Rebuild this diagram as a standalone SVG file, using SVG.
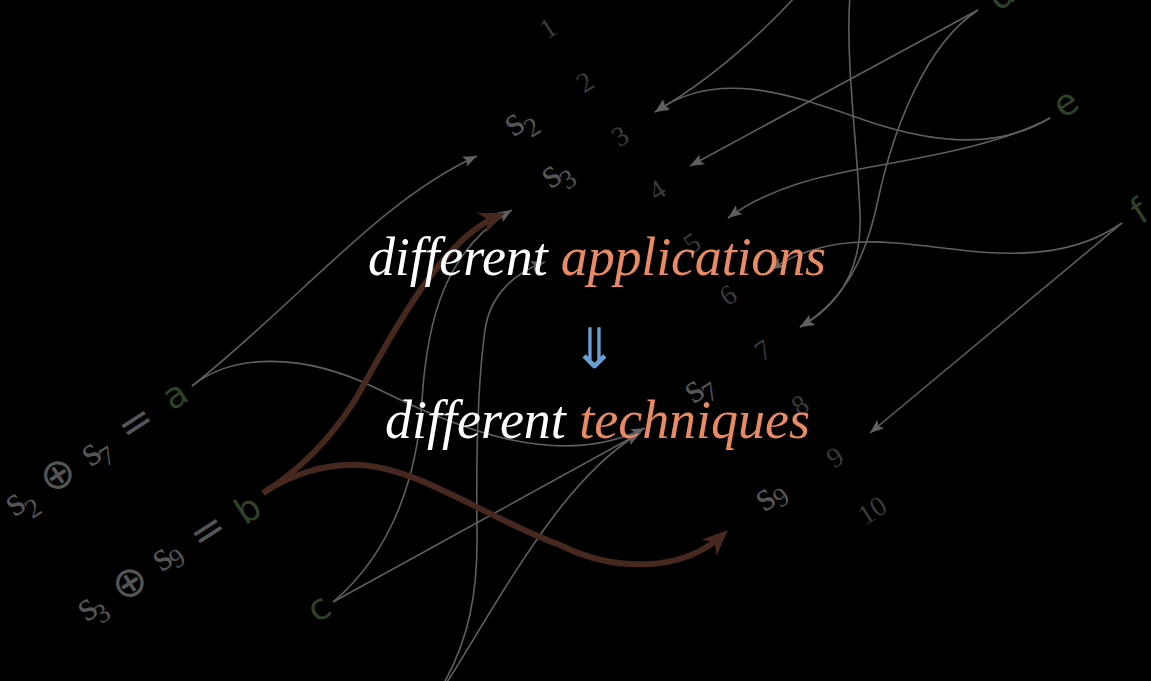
<svg xmlns="http://www.w3.org/2000/svg" width="1151" height="681" viewBox="0 0 1151 681">
<style>
.ln{fill:none;stroke:#5f5f5f;stroke-width:1.6}
.br{fill:none;stroke:#47281f;stroke-width:6}
.gr{font-family:"DejaVu Sans",sans-serif;font-size:36px;fill:#2f4228;text-anchor:middle}
.sv{font-family:"Liberation Serif",serif;font-size:42px;fill:#555;text-anchor:middle}
.sd{font-family:"Liberation Serif",serif;font-size:27px;fill:#555;text-anchor:middle}
.op{font-family:"DejaVu Sans",sans-serif;font-size:42px;fill:#555;text-anchor:middle;dominant-baseline:central}
.num{font-family:"Liberation Serif",serif;font-size:28px;fill:#3b3b3b;text-anchor:middle}
.main{font-family:"Liberation Serif",serif;font-style:italic;font-size:54px;fill:#fff}
.hl{fill:#e88a64}
</style>
<defs>
<marker id="ag" viewBox="-15 -7 16 14" refX="0" refY="0" markerWidth="16" markerHeight="14" markerUnits="userSpaceOnUse" orient="auto"><path d="M0,0 L-14,-5.5 L-11,0 L-14,5.5 Z" fill="#5f5f5f"/></marker>
<marker id="ab" viewBox="-27 -12 28 24" refX="-6" refY="0" markerWidth="28" markerHeight="24" markerUnits="userSpaceOnUse" orient="auto"><path d="M0,0 L-26,-11 L-18,0 L-26,11 Z" fill="#47281f"/></marker>
</defs>
<rect width="1151" height="681" fill="#000"/>
<g id="connectors">
<path class="ln" marker-end="url(#ag)" d="M192,386 C300,300 380,200 477,156"/>
<path class="ln" marker-end="url(#ag)" d="M192,386 C230,355 300,350 380,390 C460,430 560,470 645,428"/>
<path class="ln" marker-end="url(#ag)" d="M333,602 C395,550 418,470 422,400 C427,320 445,250 512,210"/>
<path class="ln" marker-end="url(#ag)" d="M333,602 L640,433"/>
<path class="ln" marker-end="url(#ag)" d="M440,690 C470,640 478,590 477,530 C476,450 478,380 485,330 C490,295 515,272 545,262"/>
<path class="ln" marker-end="url(#ag)" d="M442,690 C500,600 560,480 640,433"/>
<path class="ln" marker-end="url(#ag)" d="M797,-5 C760,35 710,80 655,112"/>
<path class="ln" marker-end="url(#ag)" d="M1050,118 C1000,148 940,145 870,122 C800,98 720,65 655,112"/>
<path class="ln" marker-end="url(#ag)" d="M978,10 L690,166"/>
<path class="ln" marker-end="url(#ag)" d="M978,10 C925,45 893,130 878,200 C866,258 845,300 800,327"/>
<path class="ln" marker-end="url(#ag)" d="M850,-5 C845,60 858,150 860,215 C862,270 840,305 800,327"/>
<path class="ln" marker-end="url(#ag)" d="M1050,118 C990,150 900,160 840,173 C790,183 755,198 728,218"/>
<path class="ln" marker-end="url(#ag)" d="M1122,223 C1080,252 1030,258 960,250 C890,242 830,230 770,270"/>
<path class="ln" marker-end="url(#ag)" d="M1122,223 L870,433"/>
<path class="br" marker-end="url(#ab)" d="M263,493 C300,470 330,440 355,400 C395,330 440,240 499.5,215.3"/>
<path class="br" marker-end="url(#ab)" d="M263,493 C290,475 325,463 360,465 C420,468 490,520 560,545 C610,570 680,575 723.6,534.1"/>
</g>
<g id="node-a">
<text class="sv" x="21.2" y="513.1" transform="rotate(-33 21.2 513.1)">s</text>
<text class="sd" x="38" y="515.7" transform="rotate(-33 38 515.7)">2</text>
<text class="op" x="57" y="474" transform="rotate(-33 57 474)">⊕</text>
<text class="sv" x="97.2" y="463.1" transform="rotate(-33 97.2 463.1)">s</text>
<text class="sd" x="112" y="463.7" transform="rotate(-33 112 463.7)">7</text>
<text class="op" x="135" y="422" transform="rotate(-33 135 422)">=</text>
<text class="gr" x="181.4" y="405.3" transform="rotate(-33 181.4 405.3)">a</text>
</g>
<g id="node-b">
<text class="sv" x="93.2" y="618.1" transform="rotate(-33 93.2 618.1)">s</text>
<text class="sd" x="107" y="620.7" transform="rotate(-33 107 620.7)">3</text>
<text class="op" x="129" y="582" transform="rotate(-33 129 582)">⊕</text>
<text class="sv" x="168.2" y="568.1" transform="rotate(-33 168.2 568.1)">s</text>
<text class="sd" x="182" y="565.7" transform="rotate(-33 182 565.7)">9</text>
<text class="op" x="207" y="530" transform="rotate(-33 207 530)">=</text>
<text class="gr" x="254.5" y="519.5" transform="rotate(-33 254.5 519.5)">b</text>
</g>
<g id="node-c"><text class="gr" x="325.4" y="618.3" transform="rotate(-33 325.4 618.3)">c</text></g>
<g id="node-d"><text class="gr" x="1007.5" y="5.5" transform="rotate(-33 1007.5 5.5)">d</text></g>
<g id="node-e"><text class="gr" x="1072.4" y="113.3" transform="rotate(-33 1072.4 113.3)">e</text></g>
<g id="node-f"><text class="gr" x="1146" y="221.5" transform="rotate(-33 1146 221.5)">f</text></g>
<g id="node-s2"><text class="sv" x="520.2" y="133.1" transform="rotate(-33 520.2 133.1)">s</text><text class="sd" x="537" y="134.7" transform="rotate(-33 537 134.7)">2</text></g>
<g id="node-s3"><text class="sv" x="557.2" y="185.1" transform="rotate(-33 557.2 185.1)">s</text><text class="sd" x="573" y="186.7" transform="rotate(-33 573 186.7)">3</text></g>
<g id="node-s7"><text class="sv" x="700.2" y="400.1" transform="rotate(-33 700.2 400.1)">s</text><text class="sd" x="715" y="399.7" transform="rotate(-33 715 399.7)">7</text></g>
<g id="node-s9"><text class="sv" x="771.2" y="508.1" transform="rotate(-33 771.2 508.1)">s</text><text class="sd" x="786" y="504.7" transform="rotate(-33 786 504.7)">9</text></g>
<g id="positions">
<text class="num" x="553.2" y="36" transform="rotate(-33 553.2 36)">1</text>
<text class="num" x="590.2" y="90" transform="rotate(-33 590.2 90)">2</text>
<text class="num" x="625.2" y="144" transform="rotate(-33 625.2 144)">3</text>
<text class="num" x="662.2" y="198" transform="rotate(-33 662.2 198)">4</text>
<text class="num" x="697.2" y="251" transform="rotate(-33 697.2 251)">5</text>
<text class="num" x="733.2" y="303" transform="rotate(-33 733.2 303)">6</text>
<text class="num" x="768.2" y="358" transform="rotate(-33 768.2 358)">7</text>
<text class="num" x="805.2" y="413" transform="rotate(-33 805.2 413)">8</text>
<text class="num" x="840.2" y="465" transform="rotate(-33 840.2 465)">9</text>
<text class="num" x="877.2" y="518" transform="rotate(-33 877.2 518)">10</text>
</g>
<g id="title">
<text class="main" x="368" y="275" textLength="458">different <tspan class="hl">applications</tspan></text>
<text x="594" y="368" font-family="DejaVu Sans, sans-serif" font-size="56" font-weight="200" fill="#6a9fd4" text-anchor="middle">⇓</text>
<text class="main" x="385" y="438" textLength="425">different <tspan class="hl">techniques</tspan></text>
</g>
</svg>
